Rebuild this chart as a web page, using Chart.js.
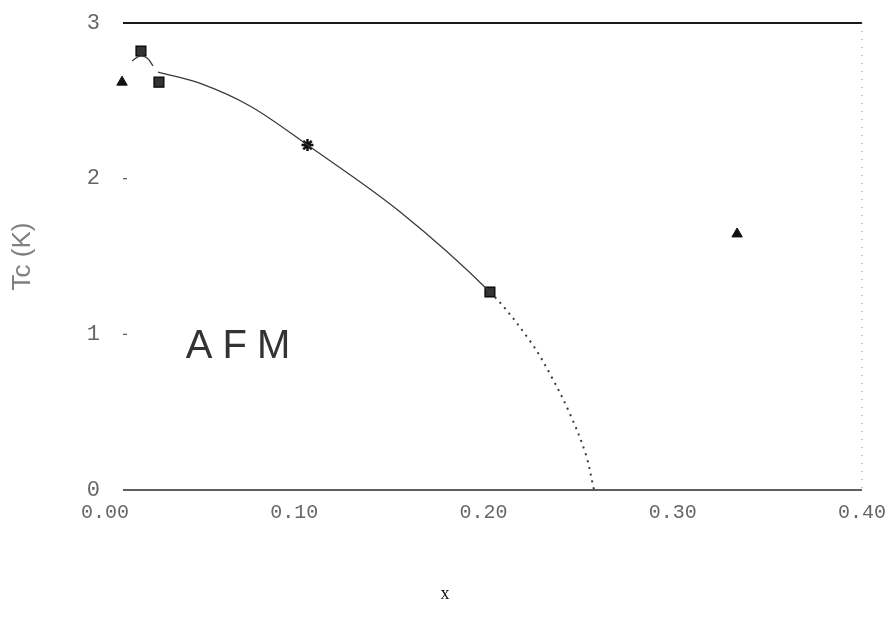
<!DOCTYPE html>
<html>
<head>
<meta charset="utf-8">
<script src="https://cdn.jsdelivr.net/npm/chart.js@4/dist/chart.umd.min.js"></script>
<style>
  html, body { margin: 0; padding: 0; background: #fff; }
  #wrap { width: 890px; height: 627px; }
</style>
</head>
<body>
<div id="wrap"><canvas id="c" width="890" height="627"></canvas></div>
<script>
// Axis ticks
const xTickValues = [0, 0.1, 0.2, 0.3, 0.4];
const xTickLabels = ['0.00', '0.10', '0.20', '0.30', '0.40'];
const yTickValues = [0, 1, 2, 3];
const yTickLabels = ['0', '1', '2', '3'];

// Fitted Tc(x) boundary of the AFM phase
const fitX = [0.028, 0.050, 0.0766, 0.107, 0.156, 0.2034, 0.2246, 0.236, 0.2457, 0.254, 0.2584];
const fitY = [2.685, 2.614, 2.467, 2.216, 1.786, 1.272, 0.957, 0.726, 0.488, 0.231, 0.0];

// Short cap drawn over the lowest-doping points
const capX = [0.0143, 0.0185, 0.0222, 0.0254];
const capY = [2.756, 2.788, 2.775, 2.724];

// Measured points, by marker type
const triX = [0.009, 0.334];
const triY = [2.62, 1.645];
const sqX = [0.019, 0.0285, 0.2034];
const sqY = [2.82, 2.62, 1.272];
const starX = [0.107];
const starY = [2.216];

// Frame of the plot box (x range of the drawn border)
const frameX = [0.0095, 0.40];
const frameY = [0, 3];

// Region label
const regionLabel = 'AFM';
const regionAt = [0.0703, 0.92];

const toPts = (xs, ys) => xs.map((x, i) => ({ x: x, y: ys[i] }));

const framePlugin = {
  id: 'framePlugin',
  beforeDatasetsDraw(chart) {
    const ctx = chart.ctx;
    const xs = chart.scales.x, ys = chart.scales.y;
    const x0 = xs.getPixelForValue(frameX[0]);
    const x1 = xs.getPixelForValue(frameX[1]);
    const yTop = ys.getPixelForValue(frameY[1]);
    const yBot = ys.getPixelForValue(frameY[0]);
    ctx.save();
    // top edge
    ctx.strokeStyle = '#1a1a1a';
    ctx.lineWidth = 2;
    ctx.beginPath(); ctx.moveTo(x0, yTop); ctx.lineTo(x1, yTop); ctx.stroke();
    // bottom edge
    ctx.strokeStyle = '#2a2a2a';
    ctx.lineWidth = 1.5;
    ctx.beginPath(); ctx.moveTo(x0, yBot); ctx.lineTo(x1, yBot); ctx.stroke();
    // right edge, faint dotted
    ctx.strokeStyle = '#888';
    ctx.lineWidth = 1;
    ctx.setLineDash([1, 7]);
    ctx.beginPath(); ctx.moveTo(x1, yTop); ctx.lineTo(x1, yBot); ctx.stroke();
    ctx.setLineDash([]);
    // small inner ticks on the left side
    ctx.strokeStyle = '#555';
    ctx.lineWidth = 1.2;
    [1, 2].forEach(v => {
      const py = ys.getPixelForValue(v);
      ctx.beginPath(); ctx.moveTo(x0, py); ctx.lineTo(x0 + 4, py); ctx.stroke();
    });
    // region label
    ctx.fillStyle = '#333';
    ctx.font = '40px "Liberation Sans", Arial, sans-serif';
    ctx.letterSpacing = '10px';
    ctx.textAlign = 'center';
    ctx.textBaseline = 'middle';
    ctx.fillText(regionLabel, xs.getPixelForValue(regionAt[0]) + 5, ys.getPixelForValue(regionAt[1]));
    ctx.letterSpacing = '0px';
    // x axis title
    ctx.fillStyle = '#111';
    ctx.font = '18px "Liberation Serif", serif';
    ctx.fillText('x', 445, 594);
    ctx.restore();
  }
};

new Chart(document.getElementById('c'), {
  type: 'scatter',
  data: {
    datasets: [
      {
        label: 'fit',
        data: toPts(fitX, fitY),
        showLine: true,
        borderColor: '#3a3a3a',
        borderWidth: 1.3,
        pointRadius: 0,
        tension: 0.35,
        segment: {
          borderDash: c => (c.p0.parsed.x >= 0.2 ? [2, 5] : undefined),
          borderWidth: c => (c.p0.parsed.x >= 0.2 ? 2 : 1.3)
        }
      },
      {
        label: 'cap',
        data: toPts(capX, capY),
        showLine: true,
        borderColor: '#3a3a3a',
        borderWidth: 1.3,
        pointRadius: 0,
        tension: 0.4
      },
      {
        label: 'triangles',
        data: toPts(triX, triY),
        pointStyle: 'triangle',
        pointRadius: 6,
        backgroundColor: '#111',
        borderColor: '#111',
        borderWidth: 1
      },
      {
        label: 'squares',
        data: toPts(sqX, sqY),
        pointStyle: 'rect',
        pointRadius: 7,
        backgroundColor: '#333',
        borderColor: '#000',
        borderWidth: 1.2
      },
      {
        label: 'star',
        data: toPts(starX, starY),
        pointStyle: 'star',
        pointRadius: 6,
        backgroundColor: '#111',
        borderColor: '#111',
        borderWidth: 2.5
      }
    ]
  },
  options: {
    responsive: false,
    animation: false,
    devicePixelRatio: 1,
    layout: { padding: { left: 0, right: 28, top: 23, bottom: 0 } },
    plugins: {
      legend: { display: false },
      tooltip: { enabled: false }
    },
    scales: {
      x: {
        type: 'linear',
        min: 0,
        max: 0.4,
        grid: { display: false, drawTicks: false },
        border: { display: false },
        afterBuildTicks: s => { s.ticks = xTickValues.map(v => ({ value: v })); },
        afterFit: s => { s.height = 137; s.paddingLeft = 0; s.paddingRight = 0; },
        ticks: {
          padding: 11,
          color: '#666',
          font: { family: '"Liberation Mono", monospace', size: 20 },
          callback: v => xTickLabels[xTickValues.findIndex(t => Math.abs(t - v) < 1e-9)]
        }
      },
      y: {
        type: 'linear',
        min: 0,
        max: 3,
        grid: { display: false, drawTicks: false },
        border: { display: false },
        afterBuildTicks: s => { s.ticks = yTickValues.map(v => ({ value: v })); },
        afterFit: s => { s.width = 105; s.paddingTop = 0; s.paddingBottom = 0; },
        ticks: {
          padding: 5,
          color: '#666',
          font: { family: '"Liberation Mono", monospace', size: 22 },
          callback: v => yTickLabels[yTickValues.indexOf(v)]
        },
        title: {
          display: true,
          text: 'Tc (K)',
          color: '#808080',
          padding: { top: 7, bottom: 0 },
          font: { family: '"Liberation Sans", Arial, sans-serif', size: 26 }
        }
      }
    }
  },
  plugins: [framePlugin]
});
</script>
</body>
</html>
